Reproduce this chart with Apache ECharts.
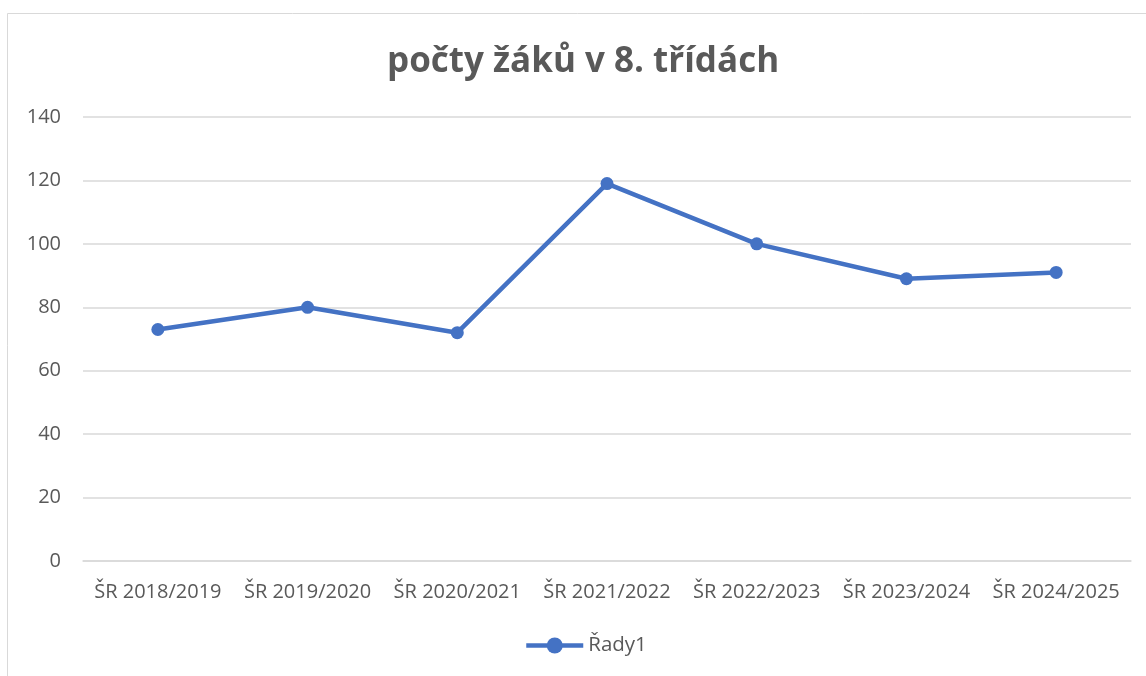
<!DOCTYPE html>
<html>
<head>
<meta charset="utf-8" />
<title>počty žáků v 8. třídách</title>
<script type="text/javascript" src="https://cdn.jsdelivr.net/npm/echarts@6/dist/echarts.min.js"></script>
<style>
  html, body { margin: 0; padding: 0; background: #fff; }
  #main { width: 1146px; height: 676px; }
</style>
</head>
<body>
<div id="main"></div>
<script>
  // data
  var years = ['ŠR 2018/2019', 'ŠR 2019/2020', 'ŠR 2020/2021', 'ŠR 2021/2022', 'ŠR 2022/2023', 'ŠR 2023/2024', 'ŠR 2024/2025'];
  var pupils = [73, 80, 72, 119, 100, 89, 91];
  var seriesName = 'Řady1';

  var font = '"Open Sans", "DejaVu Sans", sans-serif';
  var chart = echarts.init(document.getElementById('main'));

  chart.setOption({
    backgroundColor: '#fff',
    animation: false,
    graphic: [{
      type: 'rect',
      shape: { x: 7.5, y: 13.5, width: 1160, height: 700 },
      style: { fill: 'none', stroke: '#d9d9d9', lineWidth: 1 },
      silent: true
    }],
    title: {
      text: 'počty žáků v 8. třídách',
      left: 382,
      top: 40,
      textStyle: { fontFamily: font, fontSize: 35, fontWeight: 'bold', color: '#595959' }
    },
    grid: { left: 83, right: 15, top: 117, bottom: 115 },
    xAxis: {
      type: 'category',
      data: years,
      boundaryGap: true,
      axisLine: { lineStyle: { color: '#d9d9d9', width: 1.5 } },
      axisTick: { show: false },
      axisLabel: { fontFamily: font, fontSize: 20, color: '#595959', margin: 21, interval: 0 }
    },
    yAxis: {
      type: 'value',
      min: 0,
      max: 140,
      interval: 20,
      axisLine: { show: false },
      axisTick: { show: false },
      axisLabel: { fontFamily: font, fontSize: 20, color: '#595959', margin: 22 },
      splitLine: { lineStyle: { color: '#d9d9d9', width: 1.5 } }
    },
    legend: {
      bottom: 15,
      left: 519,
      itemWidth: 57,
      itemHeight: 20,
      itemGap: 4,
      textStyle: { fontFamily: font, fontSize: 20.5, color: '#595959' },
      lineStyle: { width: 4.5 },
      data: [seriesName]
    },
    series: [{
      name: seriesName,
      type: 'line',
      data: pupils,
      symbol: 'circle',
      symbolSize: 13,
      lineStyle: { color: '#4472C4', width: 4.5 },
      itemStyle: { color: '#4472C4' }
    }]
  });
</script>
</body>
</html>
